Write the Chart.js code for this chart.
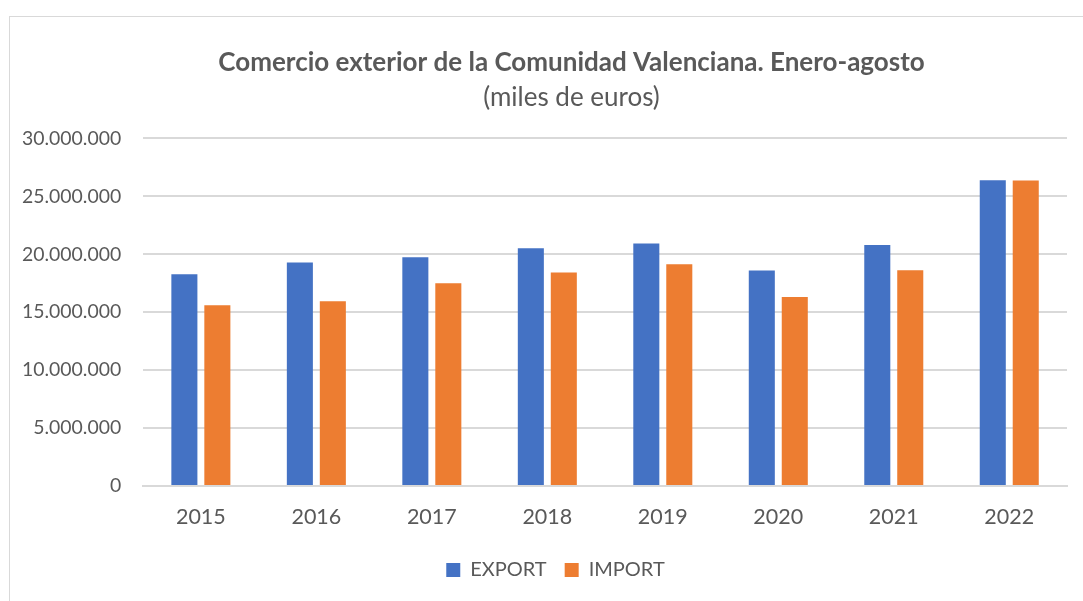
<!DOCTYPE html>
<html>
<head>
<meta charset="utf-8">
<script src="https://cdn.jsdelivr.net/npm/chart.js@4.4.1/dist/chart.umd.min.js"></script>
<style>
  html, body { margin: 0; padding: 0; background: #fff; }
  #wrap { position: relative; width: 1083px; height: 601px; overflow: hidden; }
  #frame { position: absolute; left: 9px; top: 16px; width: 1200px; height: 700px; border: 1px solid #d9d9d9; box-sizing: border-box; }
  #myChart { position: absolute; left: 0; top: 0; }
</style>
</head>
<body>
<div id="wrap">
  <div id="frame"></div>
  <canvas id="myChart" width="1083" height="601"></canvas>
</div>
<script>
// data (miles de euros)
const years = ['2015', '2016', '2017', '2018', '2019', '2020', '2021', '2022'];
const exportValues = [18280000, 19300000, 19740000, 20520000, 20920000, 18590000, 20800000, 26380000];
const importValues = [15600000, 15950000, 17500000, 18420000, 19140000, 16320000, 18620000, 26360000];
const yTicks = [0, 5000000, 10000000, 15000000, 20000000, 25000000, 30000000];

const fontName = "Lato, 'Liberation Sans', sans-serif";
const grey = '#595959';

function fmt(v) {
  return String(v).replace(/\B(?=(\d{3})+(?!\d))/g, '.');
}

// excel centres the title over the whole frame, not over the plot, so nudge the boxes
const shiftBoxes = {
  id: 'shiftBoxes',
  afterLayout(chart) {
    chart.boxes.forEach(b => {
      if (b === chart.legend) {
        b.left += 22; b.right += 22;
      } else if (b.options && b.options.text) {
        b.left += 38; b.right += 38;
      }
    });
  }
};

const ctx = document.getElementById('myChart');
const chart = new Chart(ctx, {
  type: 'bar',
  data: {
    labels: years,
    datasets: [{
      label: 'EXPORT',
      data: exportValues,
      backgroundColor: '#4472C4',
      categoryPercentage: 0.571,
      barPercentage: 0.79
    }, {
      label: 'IMPORT',
      data: importValues,
      backgroundColor: '#ED7D31',
      categoryPercentage: 0.571,
      barPercentage: 0.79
    }]
  },
  plugins: [shiftBoxes],
  options: {
    responsive: false,
    animation: false,
    layout: { padding: { left: 0, right: 16, top: 47, bottom: 11 } },
    plugins: {
      title: {
        display: true,
        text: 'Comercio exterior de la Comunidad Valenciana. Enero-agosto',
        color: grey,
        font: { family: fontName, size: 26, weight: 'bold' },
        padding: { top: 0, bottom: 4 }
      },
      subtitle: {
        display: true,
        text: '(miles de euros)',
        color: grey,
        font: { family: fontName, size: 26 },
        padding: { top: 0, bottom: 25 }
      },
      legend: {
        position: 'bottom',
        labels: {
          color: grey,
          font: { family: fontName, size: 20 },
          boxWidth: 14,
          boxHeight: 14,
          padding: 18
        }
      },
      tooltip: { enabled: false }
    },
    scales: {
      x: {
        grid: { display: false, drawTicks: false },
        border: { color: '#d9d9d9', width: 2 },
        ticks: { color: grey, font: { family: fontName, size: 21.5 }, padding: 18 },
        // padding counts twice in the axis height, fix it so the legend sits right
        afterFit: (axis) => { axis.height = 56; }
      },
      y: {
        min: 0,
        max: 30000000,
        afterBuildTicks: (axis) => { axis.ticks = yTicks.map(v => ({ value: v })); },
        grid: { color: '#d9d9d9', lineWidth: 2, drawTicks: false },
        border: { display: false },
        ticks: {
          color: grey,
          font: { family: fontName, size: 19.4 },
          padding: 22,
          callback: (v) => fmt(v)
        }
      }
    }
  }
});
</script>
</body>
</html>
